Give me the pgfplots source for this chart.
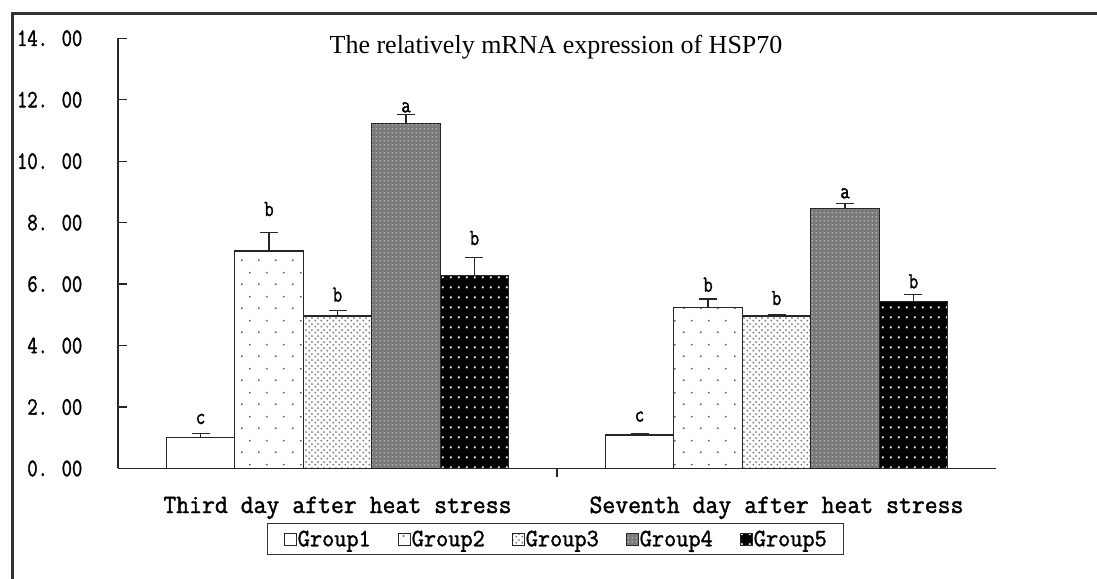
\documentclass[border=0pt]{standalone}
\usepackage{fontspec}
\usepackage{pgfplots}
\pgfplotsset{compat=1.18}
\usetikzlibrary{patterns.meta}
\setmainfont{Liberation Serif}
\newfontfamily\simA[FakeStretch=0.8, FakeBold=1.5]{Latin Modern Mono}
\newfontfamily\simB[FakeStretch=0.945, FakeBold=1.5]{Latin Modern Mono}

\tikzdeclarepattern{name=sparsedots, type=uncolored,
  bounding box={(0pt,0pt) and (17pt,24pt)}, tile size={(17pt,24pt)},
  code={\fill (4pt,6pt) circle (1.1pt); \fill (12.5pt,18pt) circle (1.1pt);}}
\tikzdeclarepattern{name=densedots, type=uncolored,
  bounding box={(0pt,0pt) and (5.6pt,5.6pt)}, tile size={(5.6pt,5.6pt)},
  code={\fill (1.4pt,1.4pt) circle (1.1pt); \fill (4.2pt,4.2pt) circle (1.1pt);}}
\tikzdeclarepattern{name=finegrid, type=uncolored,
  bounding box={(0pt,0pt) and (3.5pt,3.5pt)}, tile size={(3.5pt,3.5pt)},
  code={\fill (0.8pt,0.8pt) rectangle (2.2pt,2.2pt);}}
\tikzdeclarepattern{name=blackdots, type=uncolored,
  bounding box={(0pt,0pt) and (8.3pt,9.7pt)}, tile size={(8.3pt,9.7pt)},
  code={\fill (4.15pt,4.85pt) circle (1.4pt);}}

\begin{document}
\begin{tikzpicture}[x=1pt,y=1pt]
\useasboundingbox (0,0) rectangle (1097,578);
\draw[line width=2.5pt, black!80] (12.5,-20) -- (12.5,564.7) -- (1130,564.7);
\node[anchor=base, font=\fontsize{26}{26}\selectfont] at (556,524.7) {The relatively mRNA expression of HSP70};
\begin{axis}[
  at={(118pt,109.5pt)}, anchor=south west,
  scale only axis, width=878pt, height=430.2pt,
  xmin=-0.5, xmax=1.5, ymin=0, ymax=14,
  axis lines*=left,
  axis line style={black!85, line width=1.3pt},
  tick style={black!85, line width=1.3pt},
  tick align=inside, major tick length=9pt,
  ytick={0,2,...,14},
  yticklabels={0. 00,2. 00,4. 00,6. 00,8. 00,10. 00,12. 00,14. 00},
  yticklabel style={font=\simA\fontsize{25}{25}\selectfont, anchor=east, inner sep=0pt, xshift=-35.5pt},
  xtick={0,1},
  xticklabels={Third day after heat stress, Seventh day after heat stress},
  xtick style={draw=none},
  xticklabel style={font=\simB\fontsize{26.5}{26.5}\selectfont, anchor=base, inner sep=0pt, yshift=-35.5pt},
  ybar, bar width=0.156,
  error bars/y dir=plus, error bars/y explicit,
  error bars/error bar style={line width=1.3pt, black!85},
  error bars/error mark options={rotate=90, mark size=9pt, line width=1.3pt, black!85},
  every axis plot/.append style={draw=black!85, line width=1.3pt},
  legend columns=5,
  legend style={at={(0.4986,-0.1267)}, anchor=north, draw=black!80, line width=1.3pt,
    font=\simB\fontsize{25}{25}\selectfont, inner xsep=16pt, inner ysep=6pt,
    nodes={inner xsep=1pt, inner ysep=1pt},
    /tikz/every even column/.append style={column sep=26pt}},
  legend image code/.code={\draw[#1, line width=1pt] (0pt,-6pt) rectangle (12pt,6pt);},
  clip=false,
]
\addplot[bar shift=-0.312, fill=white] coordinates {(0,1.01) +- (0,0.13) (1,1.09) +- (0,0.055)};
\addplot[bar shift=-0.156, pattern=sparsedots, pattern color=black!60] coordinates {(0,7.08) +- (0,0.59) (1,5.25) +- (0,0.27)};
\addplot[bar shift=0, pattern=densedots, pattern color=black!50] coordinates {(0,4.96) +- (0,0.19) (1,4.96) +- (0,0.06)};
\addplot[bar shift=0.156, fill=black!52, postaction={pattern=finegrid, pattern color=white!70!black}] coordinates {(0,11.22) +- (0,0.30) (1,8.47) +- (0,0.16)};
\addplot[bar shift=0.312, fill=black, postaction={pattern=blackdots, pattern color=white!85!black}] coordinates {(0,6.29) +- (0,0.57) (1,5.43) +- (0,0.24)};
\legend{Group1,Group2,Group3,Group4,Group5}
\begin{scope}[every node/.style={anchor=base, font=\simA\fontsize{23}{23}\selectfont, inner sep=0pt}]
\node at (axis cs:-0.312,1.448) {c};
\node at (axis cs:-0.156,8.217) {b};
\node at (axis cs:0,5.428) {b};
\node at (axis cs:0.156,11.59) {a};
\node at (axis cs:0.312,7.273) {b};
\node at (axis cs:0.688,1.523) {c};
\node at (axis cs:0.844,5.753) {b};
\node at (axis cs:1,5.32) {b};
\node at (axis cs:1.156,8.793) {a};
\node at (axis cs:1.312,5.864) {b};
\end{scope}
\draw[black!85, line width=1.3pt] (axis cs:0.5,0) -- ++(0pt,-9pt);
\end{axis}
\end{tikzpicture}
\end{document}
